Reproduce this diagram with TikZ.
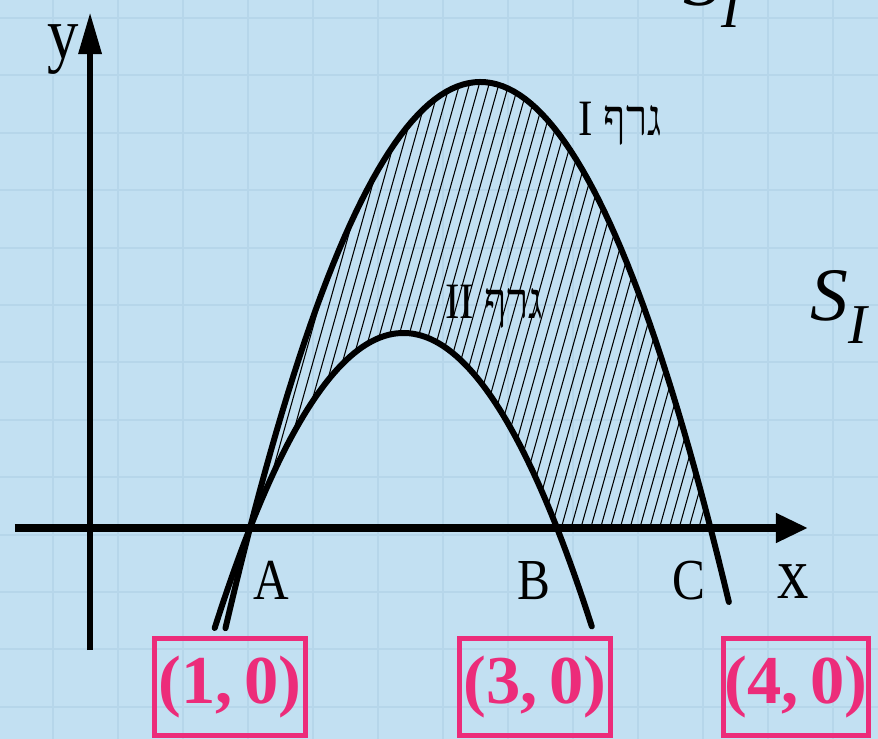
\documentclass[tikz,border=0pt]{standalone}
\usepackage{fontspec}
\setmainfont{Liberation Serif}
\newfontfamily\hebfont[Script=Hebrew]{Liberation Serif}
\usetikzlibrary{arrows.meta, positioning}
\TeXXeTstate=1
\definecolor{sky}{HTML}{C2E0F2}
\definecolor{gridln}{HTML}{B6D6EA}
\definecolor{ptpink}{HTML}{EC2C7A}

\begin{document}
\begin{tikzpicture}[x=3.07cm, y=3.07cm,
    declare function={fI(\x)=1.2914*(\x-1)*(4-\x); fII(\x)=1.2704*(\x-1)*(3-\x);},
    gridline/.style={draw=gridln, line width=1.1pt},
    axis/.style={line width=4.2pt},
    curve/.style={line width=3.4pt, line cap=round},
    hatch/.style={line width=0.6pt},
    ptlbl/.style={font=\fontsize{33}{36}\selectfont, inner sep=0pt, xscale=0.85},
    axlbl/.style={font=\fontsize{42}{44}\selectfont, inner sep=0pt, xscale=0.85},
    heblbl/.style={font=\hebfont\fontsize{29}{30}\selectfont, inner sep=0pt, xscale=0.85},
    silbl/.style={font=\fontsize{43}{45}\selectfont\itshape, inner sep=0pt},
    ptbox/.style={draw=ptpink, line width=2.8pt, text=ptpink,
                  font=\bfseries\fontsize{39}{40}\selectfont,
                  minimum height=1.94cm, inner sep=0pt}
  ]
  % frame and grid
  \fill[sky] (-0.6287,-1.3746) rectangle (5.0912,3.4397);
  \useasboundingbox (-0.6287,-1.3746) rectangle (5.0912,3.4397);
  \clip (-0.6287,-1.3746) rectangle (5.0912,3.4397);
  \foreach \i in {0,...,12}
    \draw[gridline] ({-0.2834+0.42345*\i},-1.3746) -- ++(0,4.82);
  \foreach \j in {0,...,12}
    \draw[gridline] (-0.6287,{3.3225-0.37394*\j}) -- ++(5.72,0);

  % points on the x axis
  \coordinate (A) at (1,0);
  \coordinate (B) at (3,0);
  \coordinate (C) at (4,0);

  % shaded area between the graphs
  \begin{scope}
    \clip plot[domain=1:4, samples=60] (\x,{fI(\x)}) -- (B)
          -- plot[domain=3:1, samples=60] (\x,{fII(\x)}) -- cycle;
    \foreach \k in {0,...,66}
      \draw[hatch] ({0.02+0.064*\k},0) -- ++(0.84,3);
  \end{scope}

  % axes
  \coordinate (xs) at (-0.531,0);
  \coordinate (xe) at (4.635,0);
  \coordinate (ys) at (-0.042,-0.795);
  \coordinate (ye) at (-0.042,3.361);
  \draw[axis, -{Triangle[length=0.64cm,width=0.56cm]}] (xs) -- (xe);
  \draw[axis, line width=3.7pt, -{Triangle[length=0.84cm,width=0.44cm]}] (ys) -- (ye);

  % graphs
  \draw[curve] plot[domain=0.84:4.12, samples=90] (\x,{fI(\x)});
  \draw[curve] plot[domain=0.77:3.227, samples=90] (\x,{fII(\x)});

  % labels
  \node[ptlbl, anchor=base west] (lblA) at (1.02,-0.469) {A};
  \node[ptlbl, anchor=base west] (lblB) at (2.739,-0.469) {B};
  \node[ptlbl, anchor=base west] (lblC) at (3.749,-0.469) {C};
  \node[axlbl, anchor=base west] (lblx) at (4.433,-0.46) {x};
  \node[axlbl, anchor=base west] (lbly) at (-0.318,3.06) {y};
  \node[heblbl, anchor=base west] (grI) at (3.137,2.560) {\beginR גרף I\endR};
  \node[heblbl, anchor=base west] (grII) at (2.270,1.368) {\beginR גרף II\endR};

  % side notes
  \node[silbl, anchor=base west] (sI) at (4.648,1.349)
    {S\raisebox{-0.3em}{\fontsize{32}{34}\selectfont I}};
  \node[silbl, anchor=base west] (sItop) at (3.821,3.407)
    {S\raisebox{-0.3em}{\fontsize{32}{34}\selectfont I}};

  % boxed points
  \node[ptbox, minimum width=3.02cm] (boxA) at (0.870,-1.036) {(1,\,0)};
  \node[ptbox, minimum width=3.02cm] (boxB) at (2.857,-1.036) {(3,\,0)};
  \node[ptbox, minimum width=2.90cm] (boxC) at (4.557,-1.036) {(4,\,0)};
\end{tikzpicture}
\end{document}
